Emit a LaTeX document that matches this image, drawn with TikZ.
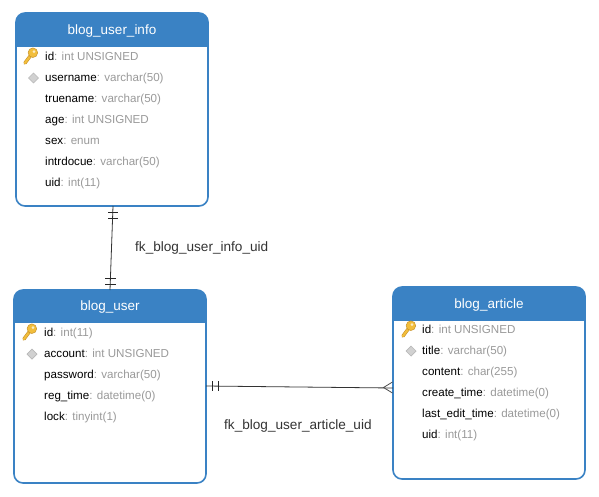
\documentclass[tikz,border=0pt]{standalone}
\usepackage{fontspec}
\setmainfont{Liberation Sans}
\definecolor{hdr}{HTML}{3A82C4}
\definecolor{typ}{HTML}{9A9A9A}
\definecolor{gold}{HTML}{F2BE3C}
\definecolor{goldd}{HTML}{C8922A}
\tikzset{
 tbl/.style={draw=hdr,line width=1.6pt,rounded corners=9pt,fill=white,minimum width=192pt,minimum height=193pt,inner sep=0pt,outer sep=0pt},
 title/.style={text=white,font=\fontsize{13.5}{15}\selectfont,inner sep=0pt,anchor=base},
 col/.style={anchor=base west,inner sep=0pt,font=\fontsize{11.6}{13}\selectfont},
 fk/.style={anchor=base west,inner sep=0pt,text=black!80,font=\fontsize{13.6}{15}\selectfont},
 conn/.style={draw=black!80,line width=0.8pt},
 tick/.style={draw=black!85,line width=0.8pt},
 pk/.pic={
  \draw[goldd,line width=3.4pt,line cap=round] (0.8,-1.8) -- (-5,6);
  \draw[gold,line width=2.2pt,line cap=round] (0.8,-1.8) -- (-5,6);
  \fill[gold,draw=goldd,line width=0.5pt] (2.9,-4.3) circle (4.8);
  \fill[white!70!gold] (4,-5.4) circle (1.4);
 },
 dm/.pic={
  \fill[black!18,draw=black!28,line width=0.7pt] (-5,0) -- (0,-5) -- (5,0) -- (0,5) -- cycle;
 }
}
\newcommand{\rowtxt}[4]{\node[col] (#1) at (#2) {#3\textcolor{typ}{: #4}};}
\newcommand{\hdrfill}[3]{\begin{scope}\clip (#1,#2) rectangle (#1+192,#3);\fill[hdr,rounded corners=9pt] (#1,#2) rectangle (#1+192,#2+80);\end{scope}}
\begin{document}
\begin{tikzpicture}[x=1pt,y=-1pt]
\useasboundingbox (0,0) rectangle (599,496);
% tables
\node[tbl,anchor=north west] (info) at (16,13) {};
\hdrfill{16}{13}{46}
\node[title] (infot) at (112,34.5) {blog\_user\_info};
\node[tbl,anchor=north west] (user) at (14,290) {};
\hdrfill{14}{290}{322}
\node[title] (usert) at (110,310.5) {blog\_user};
\node[tbl,anchor=north west,minimum height=192pt] (art) at (393,287) {};
\hdrfill{393}{287}{320}
\node[title] (artt) at (489,308.2) {blog\_article};
% rows: blog_user_info
\rowtxt{a1}{45,60}{id}{int UNSIGNED}
\rowtxt{a2}{45,81}{username}{varchar(50)}
\rowtxt{a3}{45,102}{truename}{varchar(50)}
\rowtxt{a4}{45,123}{age}{int UNSIGNED}
\rowtxt{a5}{45,144}{sex}{enum}
\rowtxt{a6}{45,165}{intrdocue}{varchar(50)}
\rowtxt{a7}{45,186}{uid}{int(11)}
\pic at (30,57) {pk};
\pic at (33.5,78) {dm};
% rows: blog_user
\rowtxt{b1}{44,336}{id}{int(11)}
\rowtxt{b2}{44,357}{account}{int UNSIGNED}
\rowtxt{b3}{44,378}{password}{varchar(50)}
\rowtxt{b4}{44,399}{reg\_time}{datetime(0)}
\rowtxt{b5}{44,420}{lock}{tinyint(1)}
\pic at (29,333) {pk};
\pic at (32,354) {dm};
% rows: blog_article
\rowtxt{c1}{422,333}{id}{int UNSIGNED}
\rowtxt{c2}{422,354}{title}{varchar(50)}
\rowtxt{c3}{422,375}{content}{char(255)}
\rowtxt{c4}{422,396}{create\_time}{datetime(0)}
\rowtxt{c5}{422,417}{last\_edit\_time}{datetime(0)}
\rowtxt{c6}{422,438}{uid}{int(11)}
\pic at (408,330) {pk};
\pic at (411,351) {dm};
% connectors
\coordinate (e1a) at (113,206);
\coordinate (e1b) at (110,290);
\draw[conn] (e1a) -- (e1b);
\draw[tick] (108,212) -- (118,212);
\draw[tick] (108,218) -- (118,218);
\draw[tick] (105,278) -- (116,278);
\draw[tick] (105,284) -- (116,284);
\coordinate (e2a) at (206,386);
\coordinate (e2b) at (393,388);
\draw[conn] (e2a) -- (e2b);
\draw[tick] (212,381) -- (212,391);
\draw[tick] (218,381) -- (218,391);
\draw[tick,draw=black!70] (392.5,382) -- (383.5,387.5) -- (392.5,393);
\node[fk] (l1) at (135,251.5) {fk\_blog\_user\_info\_uid};
\node[fk] (l2) at (224,429.5) {fk\_blog\_user\_article\_uid};
\end{tikzpicture}
\end{document}
